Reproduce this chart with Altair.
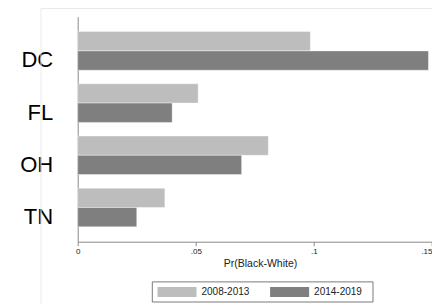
import altair as alt
import pandas as pd

states = ["DC", "FL", "OH", "TN"]
periods = ["2008-2013", "2014-2019"]
pr_2008_2013 = [0.0985, 0.051, 0.0807, 0.0369]
pr_2014_2019 = [0.1485, 0.040, 0.0694, 0.025]
x_ticks = [0, 0.05, 0.1, 0.15]
bar_colors = ["#bdbdbd", "#7f7f7f"]

rows = []
for s, a, b in zip(states, pr_2008_2013, pr_2014_2019):
    rows.append({"state": s, "period": periods[0], "pr": a})
    rows.append({"state": s, "period": periods[1], "pr": b})
df = pd.DataFrame(rows)
legend_df = pd.DataFrame({"period": periods, "color": bar_colors})

FONT = "Liberation Sans"

bars = alt.Chart(df).mark_bar(stroke="white", strokeOpacity=0.4, strokeWidth=1).encode(
    x=alt.X(
        "pr:Q",
        scale=alt.Scale(domain=[0, 0.15], nice=False, zero=True),
        axis=alt.Axis(
            values=x_ticks,
            labelExpr="replace(toString(datum.value), '0.', '.')",
            labelAlign={"condition": {"test": "datum.value >= 0.15", "value": "right"}, "value": "center"},
            title="Pr(Black-White)",
            titleX=182.3,
            titleAlign="center",
            grid=False,
            labelFlush=False,
            tickSize=4,
            tickColor="#8a8a8a",
            domainColor="#8a8a8a",
            labelFontSize=8,
            labelPadding=2,
            labelColor="#222222",
            titleFontSize=10.5,
            titleFontWeight="normal",
            titleColor="#222222",
            titlePadding=3,
            labelFont=FONT,
            titleFont=FONT,
        ),
    ),
    y=alt.Y(
        "state:N",
        sort=states,
        scale=alt.Scale(paddingInner=0.26, paddingOuter=0.285),
        axis=alt.Axis(
            title=None,
            ticks=False,
            tickSize=0,
            domainColor="#8a8a8a",
            labelFontSize=22,
            labelPadding=25,
            labelOffset=9.5,
            labelColor="#000000",
            labelFont=FONT,
        ),
    ),
    yOffset=alt.YOffset("period:N", sort=periods, scale=alt.Scale(paddingInner=0, paddingOuter=0)),
    color=alt.Color(
        "period:N",
        sort=periods,
        scale=alt.Scale(domain=periods, range=bar_colors),
        legend=None,
    ),
)

frame = alt.Chart(alt.Data(values=[{}])).mark_rule(color="#e6ecec", strokeWidth=1).encode(
    x=alt.value(-36.7), y=alt.value(-8.2), y2=alt.value(290)
)
frame_top = alt.Chart(alt.Data(values=[{}])).mark_rule(color="#e6ecec", strokeWidth=1).encode(
    x=alt.value(-36.7), x2=alt.value(354.3), y=alt.value(-8.2)
)

legend_box = alt.Chart(alt.Data(values=[{}])).mark_rect(
    fill="white", stroke="#7a7a7a", strokeWidth=1
).encode(
    x=alt.value(74.6), x2=alt.value(295.3), y=alt.value(265.2), y2=alt.value(285.3)
)

legend_base = alt.Chart(legend_df).transform_window(
    idx="row_number()"
).transform_calculate(
    sx="79.8 + (datum.idx - 1) * 112.6",
    sx2="79.8 + (datum.idx - 1) * 112.6 + 39",
    tx="79.8 + (datum.idx - 1) * 112.6 + 44",
)

legend_swatch = legend_base.mark_rect().encode(
    x=alt.X("sx:Q", scale=None),
    x2="sx2:Q",
    y=alt.value(270.3),
    y2=alt.value(280.3),
    fill=alt.Fill("color:N", scale=None),
)

legend_text = legend_base.mark_text(
    align="left", baseline="middle", fontSize=10, font=FONT, color="#222222"
).encode(
    x=alt.X("tx:Q", scale=None),
    y=alt.value(275.5),
    text="period:N",
)

chart = alt.layer(frame, frame_top, bars, legend_box, legend_swatch, legend_text).properties(
    width=354.3,
    height=225,
    padding={"left": 69.7, "top": 8.7, "right": 0, "bottom": 62.3},
    autosize=alt.AutoSizeParams(type="none"),
    background="white",
).configure_view(stroke=None)

chart.save("out.html", embed_options={"renderer": "svg", "actions": False})
